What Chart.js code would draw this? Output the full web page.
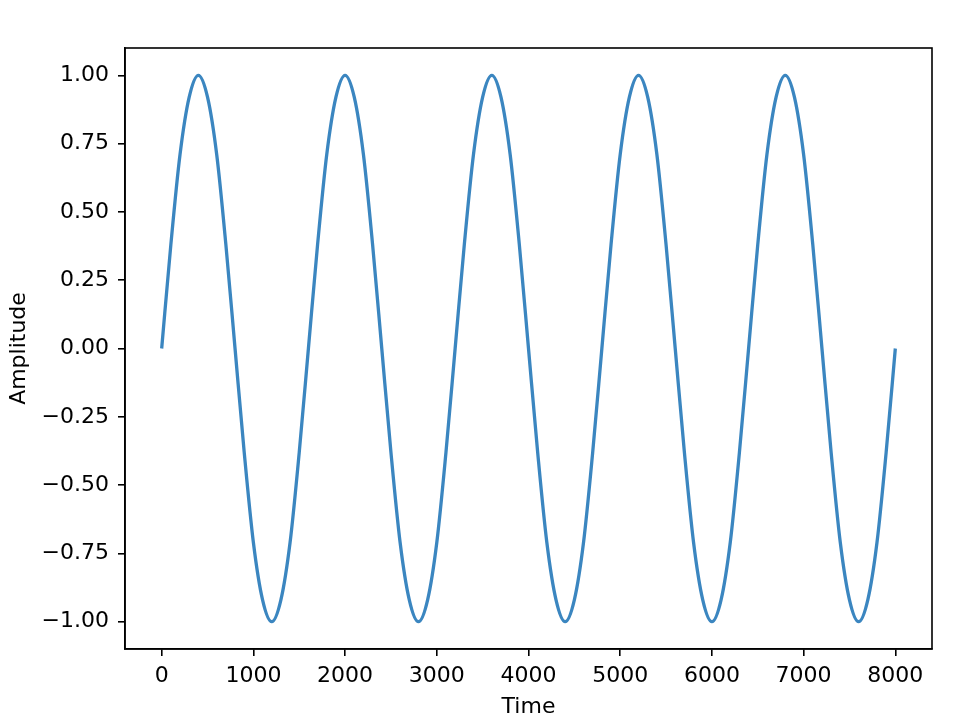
<!DOCTYPE html>
<html>
<head>
<meta charset="utf-8">
<script src="https://cdn.jsdelivr.net/npm/chart.js@4.4.1/dist/chart.umd.min.js"></script>
<style>
  html, body { margin: 0; padding: 0; background: #fff; }
  canvas { display: block; }
</style>
</head>
<body>
<canvas id="c" width="962" height="720"></canvas>
<script>
const times = [
  0, 100, 200, 300, 400, 500, 600, 700, 800, 900,
  1000, 1100, 1200, 1300, 1400, 1500, 1600, 1700, 1800, 1900,
  2000, 2100, 2200, 2300, 2400, 2500, 2600, 2700, 2800, 2900,
  3000, 3100, 3200, 3300, 3400, 3500, 3600, 3700, 3800, 3900,
  4000, 4100, 4200, 4300, 4400, 4500, 4600, 4700, 4800, 4900,
  5000, 5100, 5200, 5300, 5400, 5500, 5600, 5700, 5800, 5900,
  6000, 6100, 6200, 6300, 6400, 6500, 6600, 6700, 6800, 6900,
  7000, 7100, 7200, 7300, 7400, 7500, 7600, 7700, 7800, 7900,
  8000,
];
const amplitude = [
  0, 0.38, 0.71, 0.92, 1, 0.92, 0.71, 0.38, 0, -0.38,
  -0.71, -0.92, -1, -0.92, -0.71, -0.38, 0, 0.38, 0.71, 0.92,
  1, 0.92, 0.71, 0.38, 0, -0.38, -0.71, -0.92, -1, -0.92,
  -0.71, -0.38, 0, 0.38, 0.71, 0.92, 1, 0.92, 0.71, 0.38,
  0, -0.38, -0.71, -0.92, -1, -0.92, -0.71, -0.38, 0, 0.38,
  0.71, 0.92, 1, 0.92, 0.71, 0.38, 0, -0.38, -0.71, -0.92,
  -1, -0.92, -0.71, -0.38, 0, 0.38, 0.71, 0.92, 1, 0.92,
  0.71, 0.38, 0, -0.38, -0.71, -0.92, -1, -0.92, -0.71, -0.38,
  0,
];
const xTicks = [0, 1000, 2000, 3000, 4000, 5000, 6000, 7000, 8000];
const yTicks = [-1, -0.75, -0.5, -0.25, 0, 0.25, 0.5, 0.75, 1];

const FONT = { family: "'DejaVu Sans', sans-serif", size: 22 };
const fmtY = (v) => (v < 0 ? "\u2212" : "") + Math.abs(v).toFixed(2);

// matplotlib-style closed frame round the plot area
const frame = {
  id: "frame",
  afterDraw(chart) {
    const { ctx, chartArea: a } = chart;
    ctx.save();
    ctx.strokeStyle = "#000";
    ctx.lineWidth = 1.6;
    ctx.strokeRect(a.left, a.top, a.right - a.left, a.bottom - a.top);
    ctx.restore();
  },
};

const axisGrid = { drawOnChartArea: false, drawTicks: true, tickLength: 7, color: "#000", lineWidth: 1.6 };

new Chart(document.getElementById("c"), {
  type: "line",
  data: {
    datasets: [{
      data: times.map((t, i) => ({ x: t, y: amplitude[i] })),
      borderColor: "#3b86c0",
      borderWidth: 3.3,
      pointRadius: 0,
      cubicInterpolationMode: "monotone",
      fill: false,
    }],
  },
  options: {
    responsive: false,
    animation: false,
    devicePixelRatio: 1,
    layout: { padding: { top: 48, right: 30, left: 0, bottom: 0 } },
    plugins: { legend: { display: false }, tooltip: { enabled: false } },
    scales: {
      x: {
        type: "linear",
        min: -400,
        max: 8400,
        afterBuildTicks: (s) => { s.ticks = xTicks.map((v) => ({ value: v })); },
        afterFit: (s) => { s.height = 71; },
        grid: axisGrid,
        border: { display: true, color: "#000", width: 1.6 },
        ticks: { color: "#000", font: FONT, padding: 7, maxRotation: 0, callback: (v) => String(v) },
        title: { display: true, text: "Time", color: "#000", font: FONT, padding: { top: 0, bottom: 0 } },
      },
      y: {
        type: "linear",
        min: -1.1,
        max: 1.1,
        afterBuildTicks: (s) => { s.ticks = yTicks.map((v) => ({ value: v })); },
        afterFit: (s) => { s.width = 125; },
        grid: axisGrid,
        border: { display: true, color: "#000", width: 1.6 },
        ticks: { color: "#000", font: FONT, padding: 9, callback: (v) => fmtY(v) },
        title: { display: true, text: "Amplitude", color: "#000", font: FONT, padding: { top: 6, bottom: 0 } },
      },
    },
  },
  plugins: [frame],
});
</script>
</body>
</html>
